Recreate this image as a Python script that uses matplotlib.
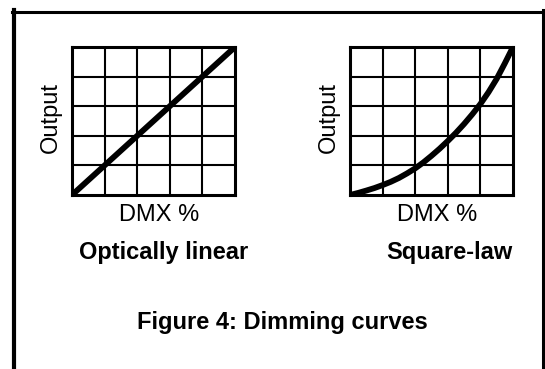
import matplotlib
matplotlib.use('Agg')
from matplotlib import pyplot as plt
from matplotlib.lines import Line2D

plt.rcParams['font.family'] = ['Liberation Sans', 'DejaVu Sans']

# curve values (DMX fraction -> output fraction)
linear_x = [0.0, 1.0]
linear_y = [0.0, 1.0]
square_x = [0.0, 0.05, 0.1, 0.15, 0.2, 0.25, 0.3, 0.35, 0.4, 0.45, 0.5,
            0.55, 0.6, 0.65, 0.7, 0.75, 0.8, 0.85, 0.9, 0.95, 1.0]
square_y = [0.0, 0.014, 0.03, 0.047, 0.067, 0.089, 0.115, 0.146, 0.18, 0.22, 0.265,
            0.313, 0.365, 0.42, 0.48, 0.545, 0.615, 0.695, 0.785, 0.89, 1.0]

grid_ticks = [0.2, 0.4, 0.6, 0.8]
titles = ['Optically linear', 'Square-law']
caption = 'Figure 4: Dimming curves'

W, H = 545, 369


def fx(px):
    return px / W


def fy(py):
    return 1 - py / H


fig = plt.figure(figsize=(W / 100, H / 100), dpi=100)

# outer frame (no bottom edge)
fig.add_artist(Line2D([fx(12), fx(543)], [fy(11.5), fy(11.5)], color='black', lw=2.2))
fig.add_artist(Line2D([fx(14), fx(14)], [fy(10), fy(369)], color='black', lw=3))
fig.add_artist(Line2D([fx(542.5), fx(542.5)], [fy(10), fy(369)], color='black', lw=2.2))

panels = [
    (72, linear_x, linear_y, 163.5),
    (350, square_x, square_y, 449),
]

for (left, xs, ys, title_cx), title in zip(panels, titles):
    ax = fig.add_axes([fx(left), fy(195), 163 / W, 148 / H])
    ax.plot(xs, ys, color='black', lw=4.2, solid_capstyle='butt',
            solid_joinstyle='round')
    ax.set_xlim(0, 1)
    ax.set_ylim(0, 1)
    ax.set_xticks(grid_ticks)
    ax.set_yticks(grid_ticks)
    ax.tick_params(length=0, labelbottom=False, labelleft=False)
    ax.grid(True, color='black', lw=1.5)
    for sp in ax.spines.values():
        sp.set_linewidth(2.2)

    fig.text(fx(left - 21), fy(117), 'Output', rotation=90, fontsize=17,
             ha='center', va='center')
    fig.text(fx(left + 87), fy(221), 'DMX %', fontsize=17,
             ha='center', va='baseline')
    fig.text(fx(title_cx), fy(259), title, fontsize=17, fontweight='bold',
             ha='center', va='baseline')

fig.text(fx(282.5), fy(329), caption, fontsize=17, fontweight='bold',
         ha='center', va='baseline')

fig.savefig('out.png', dpi=100)
